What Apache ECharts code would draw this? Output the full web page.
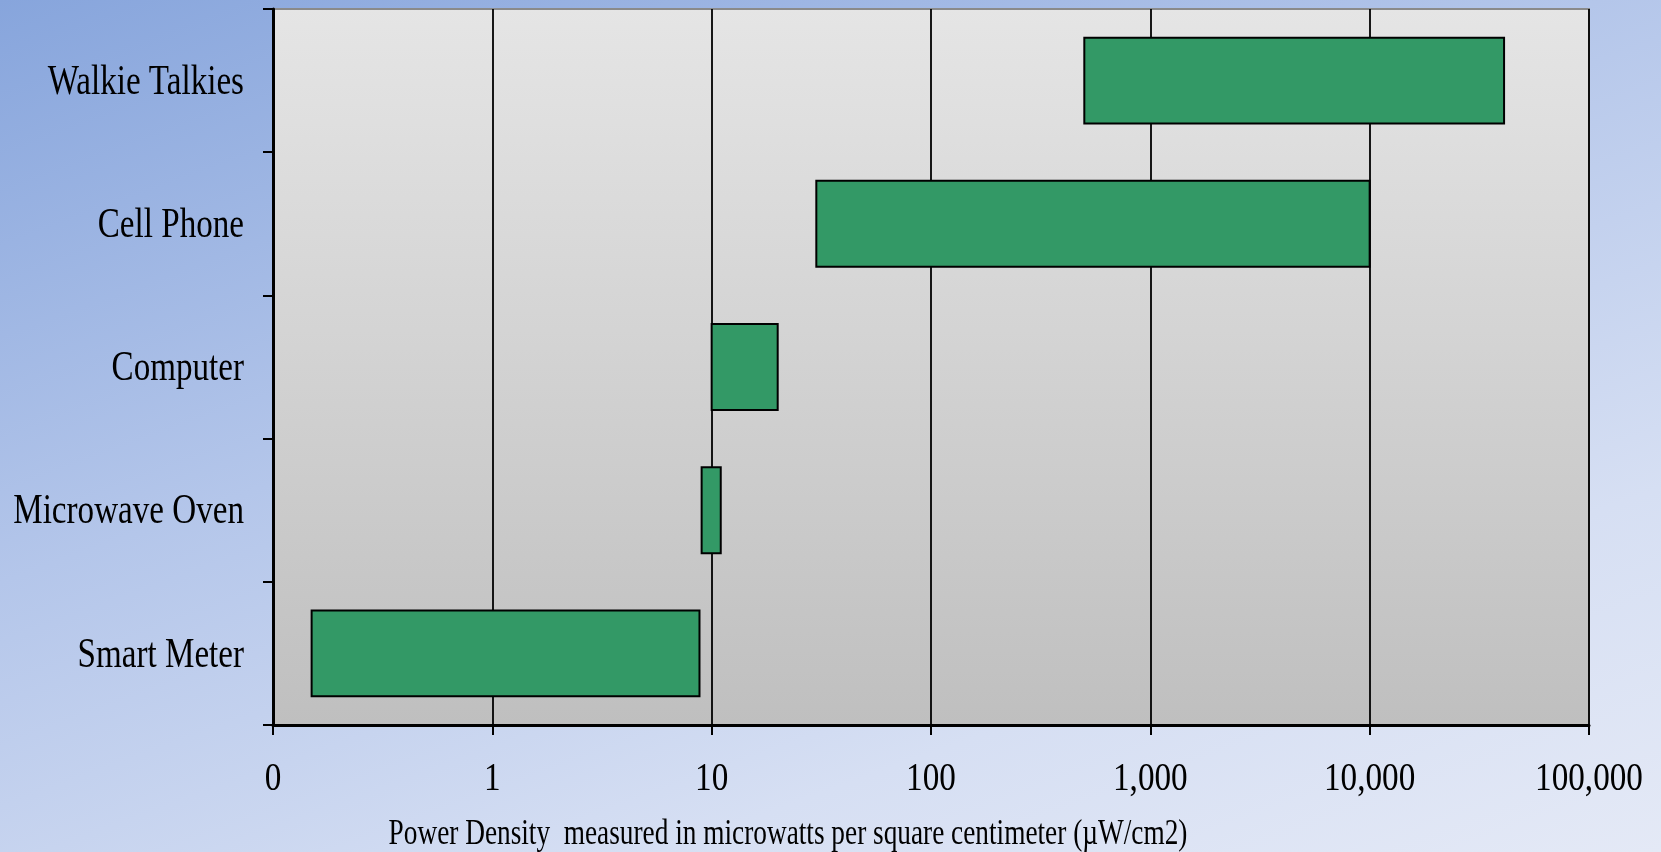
<!DOCTYPE html>
<html>
<head>
<meta charset="utf-8">
<script src="https://cdn.jsdelivr.net/npm/echarts@6/dist/echarts.min.js"></script>
<style>
  html, body { margin: 0; padding: 0; }
  body {
    width: 1661px; height: 852px;
    background: linear-gradient(160deg, #87a5dc 0%, #b4c6ea 40%, #d6dff3 75%, #e4e9f6 100%);
  }
  #chart { width: 1661px; height: 852px; }
</style>
</head>
<body>
<div id="chart"></div>
<script>
// 数据
const categories = ['Walkie Talkies', 'Cell Phone', 'Computer', 'Microwave Oven', 'Smart Meter'];
const lowValues = [500, 30, 10, 9, 0.15];
const highValues = [41000, 10000, 20, 11, 8.8];
const tickValues = [0.1, 1, 10, 100, 1000, 10000, 100000];
const tickLabels = ['0', '1', '10', '100', '1,000', '10,000', '100,000'];
const axisTitle = 'Power Density  measured in microwatts per square centimeter (\u00b5W/cm2)';

const FONT = '"Liberation Serif"';

const chart = echarts.init(document.getElementById('chart'));

// 文字是压扁的（原图横向压缩），用 scaleX 模拟
function squeezedText(x, y, text, size, sx, align) {
  return {
    type: 'text',
    x: x, y: y,
    scaleX: sx,
    style: {
      text: text,
      font: size + 'px ' + FONT,
      fill: '#000',
      align: align,
      verticalAlign: 'middle'
    }
  };
}

chart.setOption({
  backgroundColor: 'transparent',
  animation: false,
  grid: {
    left: 273,
    right: 72,
    top: 9,
    bottom: 127,
    show: true,
    borderColor: '#8a8a8a',
    borderWidth: 2,
    backgroundColor: {
      type: 'linear', x: 0, y: 0, x2: 0, y2: 1,
      colorStops: [
        { offset: 0, color: '#e5e5e5' },
        { offset: 1, color: '#bfbfbf' }
      ]
    }
  },
  xAxis: {
    type: 'log',
    logBase: 10,
    min: 0.1,
    max: 100000,
    axisLine: { show: true, lineStyle: { color: '#000', width: 3 } },
    axisTick: { show: true, length: 10, lineStyle: { color: '#000', width: 2 } },
    axisLabel: { show: false },
    splitLine: { show: true, lineStyle: { color: '#000', width: 1.8 } },
    minorTick: { show: false },
    minorSplitLine: { show: false }
  },
  yAxis: {
    type: 'category',
    inverse: true,
    data: categories,
    axisLine: { show: true, lineStyle: { color: '#000', width: 3 } },
    axisTick: { show: true, length: 10, lineStyle: { color: '#000', width: 2 } },
    axisLabel: { show: false },
    splitLine: { show: false }
  },
  graphic: [
    squeezedText(788, 835, axisTitle, 35, 0.78, 'center')
  ],
  series: [
    {
      // 区间条
      type: 'custom',
      data: categories.map((c, i) => [i, lowValues[i], highValues[i]]),
      encode: { x: [1, 2], y: 0 },
      renderItem: function (params, api) {
        const cat = api.value(0);
        const start = api.coord([api.value(1), cat]);
        const end = api.coord([api.value(2), cat]);
        const h = api.size([1, 1])[1] * 0.6;
        return {
          type: 'rect',
          shape: { x: start[0], y: start[1] - h / 2, width: end[0] - start[0], height: h },
          style: { fill: '#339966', stroke: '#000', lineWidth: 2 }
        };
      }
    },
    {
      // y 轴标签
      type: 'custom',
      data: categories.map((c, i) => [0.1, i]),
      encode: { x: 0, y: 1 },
      silent: true,
      renderItem: function (params, api) {
        const i = api.value(1);
        const p = api.coord([0.1, i]);
        return squeezedText(params.coordSys.x - 29, p[1] + 2, categories[i], 43, 0.77, 'right');
      }
    },
    {
      // x 轴刻度标签
      type: 'custom',
      data: tickValues.map(v => [v, 0]),
      encode: { x: 0, y: 1 },
      silent: true,
      renderItem: function (params, api) {
        const p = api.coord([api.value(0), 0]);
        const cs = params.coordSys;
        return squeezedText(p[0], cs.y + cs.height + 54, tickLabels[params.dataIndex], 41, 0.81, 'center');
      }
    }
  ]
});

window.addEventListener('resize', () => chart.resize());
</script>
</body>
</html>
